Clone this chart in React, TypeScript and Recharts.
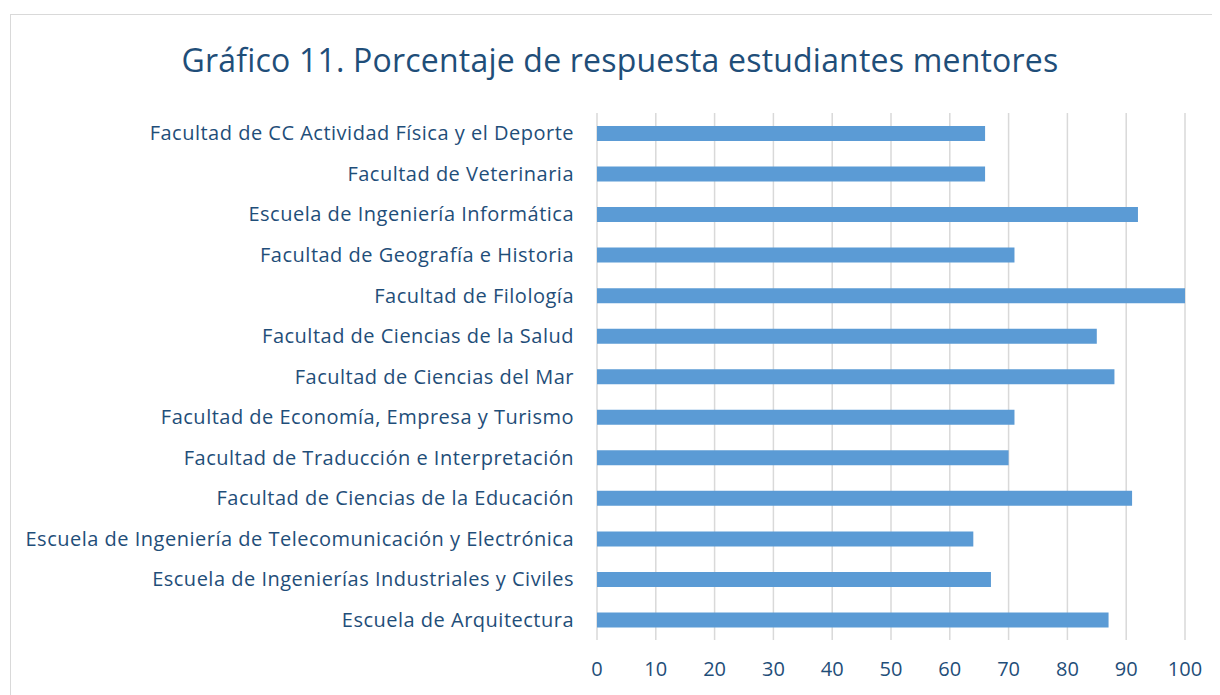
import React from 'react'
import { BarChart, Bar, XAxis, YAxis, CartesianGrid } from 'recharts'

const categories = [
  'Facultad de CC Actividad Física y el Deporte',
  'Facultad de Veterinaria',
  'Escuela de Ingeniería Informática',
  'Facultad de Geografía e Historia',
  'Facultad de Filología',
  'Facultad de Ciencias de la Salud',
  'Facultad de Ciencias del Mar',
  'Facultad de Economía, Empresa y Turismo',
  'Facultad de Traducción e Interpretación',
  'Facultad de Ciencias de la Educación',
  'Escuela de Ingeniería de Telecomunicación y Electrónica',
  'Escuela de Ingenierías Industriales y Civiles',
  'Escuela de Arquitectura',
]

const porcentajes = [66, 66, 92, 71, 100, 85, 88, 71, 70, 91, 64, 67, 87]

const xTicks = [0, 10, 20, 30, 40, 50, 60, 70, 80, 90, 100]

const TEXT = '#1f4e79'
const FONT = '"Open Sans", Lato, sans-serif'

const data = categories.map((name, i) => ({ name, value: porcentajes[i] }))

export default function App() {
  return (
    <div style={{ position: 'relative', width: 1212, height: 687, overflow: 'hidden', fontFamily: FONT }}>
      {/* marco del gráfico */}
      <div
        style={{
          position: 'absolute',
          left: 2,
          top: 6,
          width: 1230,
          height: 700,
          border: '1px solid #d9d9d9',
          background: '#fff',
        }}
      />
      <div
        style={{
          position: 'absolute',
          left: 0,
          top: 30,
          width: 1224,
          textAlign: 'center',
          fontSize: 32,
          letterSpacing: 0.2,
          color: TEXT,
          whiteSpace: 'nowrap',
        }}
      >
        Gráfico 11. Porcentaje de respuesta estudiantes mentores
      </div>
      <div style={{ position: 'absolute', left: 0, top: 0 }}>
        <BarChart
          width={1212}
          height={687}
          data={data}
          layout="vertical"
          margin={{ top: 105, right: 35, bottom: 20, left: 0 }}
        >
          <CartesianGrid stroke="#d9d9d9" strokeWidth={1.5} horizontal={false} />
          <XAxis
            type="number"
            domain={[0, 100]}
            ticks={xTicks}
            axisLine={false}
            tickLine={false}
            tick={{ fill: TEXT, fontSize: 20, fontFamily: FONT }}
            height={35}
            tickMargin={16}
            interval={0}
          />
          <YAxis
            type="category"
            dataKey="name"
            width={589}
            axisLine={false}
            tickLine={false}
            tick={{ fill: TEXT, fontSize: 20, fontFamily: FONT, letterSpacing: 0.5 }}
            tickMargin={17}
            interval={0}
          />
          <Bar dataKey="value" fill="#5b9bd5" barSize={15} isAnimationActive={false} />
        </BarChart>
      </div>
    </div>
  )
}
